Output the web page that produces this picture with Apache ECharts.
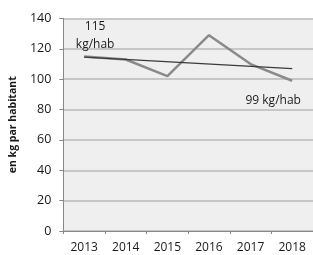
<!DOCTYPE html>
<html>
<head>
<meta charset="utf-8">
<script src="https://cdn.jsdelivr.net/npm/echarts@6/dist/echarts.min.js"></script>
<style>
html, body { margin: 0; padding: 0; background: #fff; }
#chart { width: 313px; height: 255px; }
</style>
</head>
<body>
<div id="chart"></div>
<script>
var years = ['2013', '2014', '2015', '2016', '2017', '2018']
var kgParHab = [115, 113, 102, 129, 110, 99]
// tendance (extrémités seulement)
var tendance = [114.5, null, null, null, null, 107]
var yTicks = [0, 20, 40, 60, 80, 100, 120, 140]

var myChart = echarts.init(document.getElementById('chart'))
var option = {
	animation: false,
	textStyle: { fontFamily: 'Open Sans' },
	grid: {
		left: 63,
		right: 0,
		top: 18.5,
		bottom: 24,
		show: true,
		backgroundColor: '#efefef',
		borderWidth: 0,
	},
	xAxis: {
		type: 'category',
		data: years,
		boundaryGap: true,
		axisLine: { lineStyle: { color: '#888' } },
		axisTick: { show: true, length: 3, lineStyle: { color: '#888' } },
		axisLabel: { color: '#1a1a1a', fontSize: 12, margin: 11 },
	},
	yAxis: {
		type: 'value',
		min: yTicks[0],
		max: yTicks[yTicks.length - 1],
		interval: 20,
		name: 'en kg par habitant',
		nameLocation: 'middle',
		nameGap: 40,
		nameTextStyle: { fontSize: 10.5, fontWeight: 'bold', color: '#1a1a1a' },
		axisLine: { show: true, lineStyle: { color: '#888' } },
		axisTick: { show: true, length: 4, lineStyle: { color: '#888' } },
		axisLabel: { color: '#1a1a1a', fontSize: 12.5, margin: 12 },
		splitLine: { lineStyle: { color: '#bababa', width: 1.5 } },
	},
	series: [
		{
			name: 'tendance',
			type: 'line',
			data: tendance,
			connectNulls: true,
			symbol: 'none',
			lineStyle: { color: '#3a3a3a', width: 1.3 },
			z: 3,
		},
		{
			name: 'kg par habitant',
			type: 'line',
			data: kgParHab,
			symbol: 'none',
			lineStyle: { color: '#8a8a8a', width: 2.5 },
			z: 2,
			markPoint: {
				symbol: 'rect',
				symbolSize: 0,
				data: [
					{
						coord: [0, kgParHab[0]],
						label: {
							show: true,
							formatter: kgParHab[0] + '\nkg/hab',
							position: 'top',
							offset: [11, 2],
							align: 'center',
							color: '#1a1a1a',
							fontSize: 12,
							lineHeight: 18,
						},
					},
					{
						coord: [5, kgParHab[5]],
						label: {
							show: true,
							formatter: kgParHab[5] + ' kg/hab',
							position: 'bottom',
							offset: [-19, 9],
							color: '#1a1a1a',
							fontSize: 12,
						},
					},
				],
			},
		},
	],
}
option && myChart.setOption(option)
</script>
</body>
</html>
